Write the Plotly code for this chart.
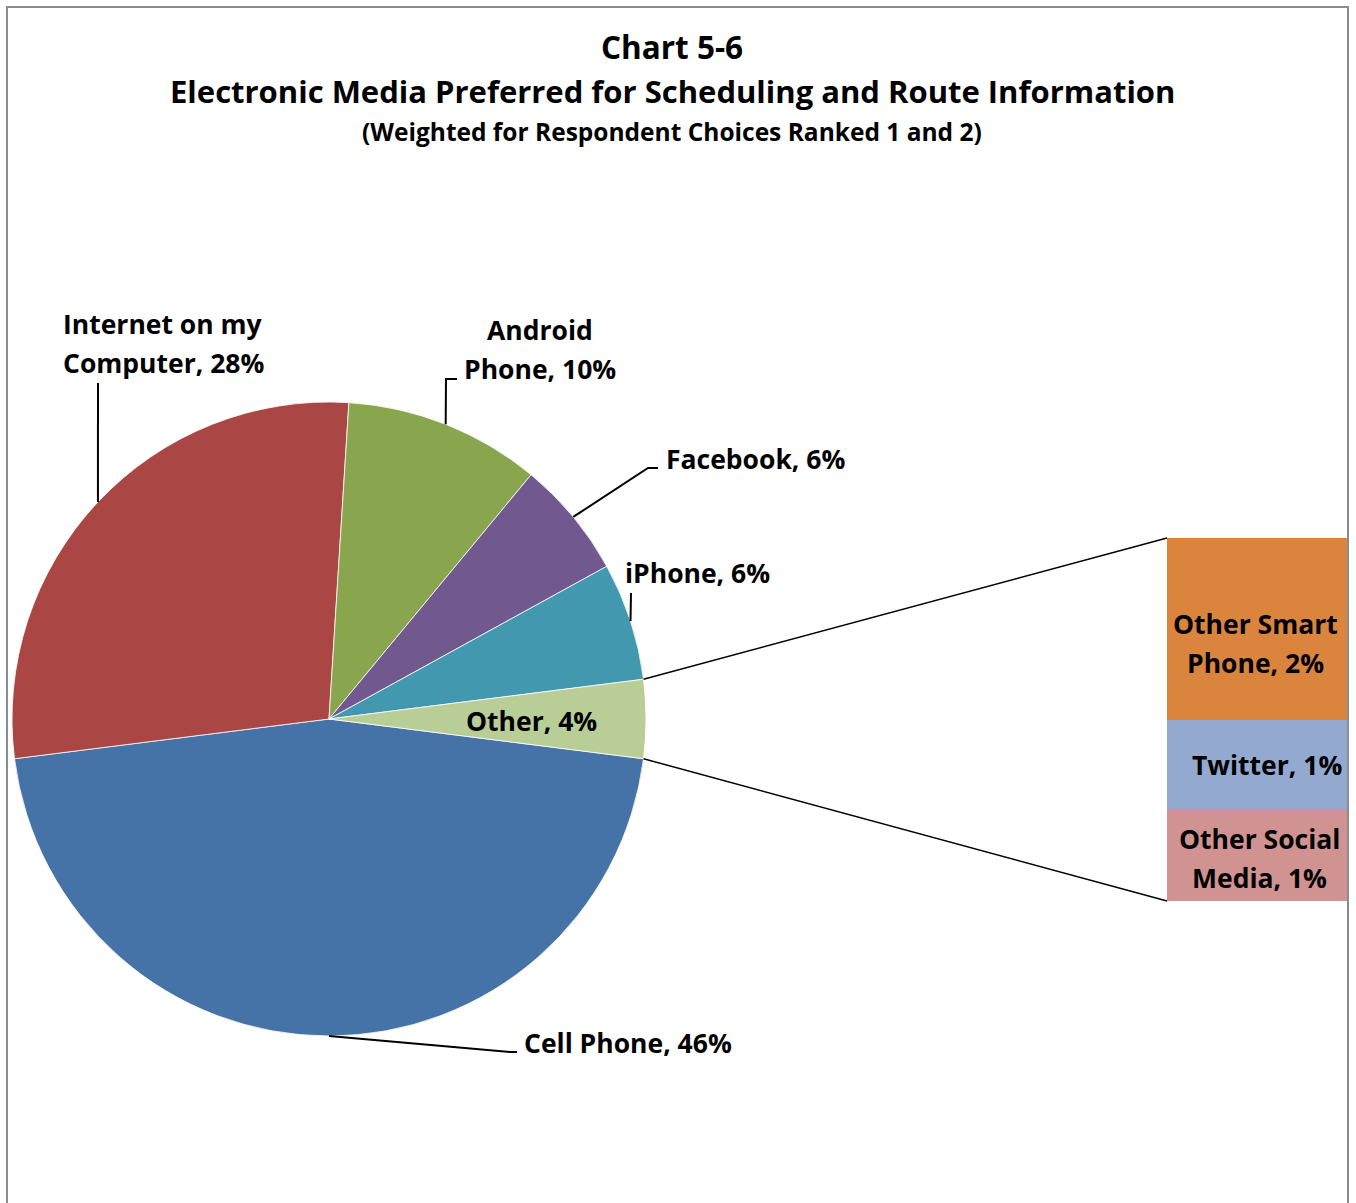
import math
import plotly.graph_objects as go

# ---- data -----------------------------------------------------------------
pie_labels = ["Cell Phone", "Internet on my<br>Computer", "Android<br>Phone",
              "Facebook", "iPhone", "Other"]
pie_values = [46, 28, 10, 6, 6, 4]
pie_colors = ["#4572A7", "#AA4643", "#89A54E", "#71588F", "#4198AF", "#B9CD96"]

bar_labels = ["Other Social<br>Media", "Twitter", "Other Smart<br>Phone"]   # bottom -> top
bar_values = [1, 1, 2]
bar_colors = ["#D19392", "#93A9CF", "#DB843D"]

title_lines = ["Chart 5-6",
               "Electronic Media Preferred for Scheduling and Route Information",
               "(Weighted for Respondent Choices Ranked 1 and 2)"]

# ---- geometry (pixels) ------------------------------------------------------
W, H = 1356, 1203
FONT = "Open Sans"
LABEL_SIZE = 26.5
LINE_GAP = 39                                   # spacing between label lines
cx, cy, R = 329, 719, 317                       # pie centre / radius
bar_px = dict(x0=1167, x1=1348, y0=538, y1=901)  # bar panel box


def px(x, y):
    return x / W, 1 - y / H


total = sum(pie_values)
other_share = pie_values[-1] / total
# the "Other" slice is centred on 3 o'clock
rotation = 90 + 180 * other_share


def rim(theta_deg):
    t = math.radians(theta_deg)
    return cx + R * math.sin(t), cy - R * math.cos(t)


# mid angle of every slice (clockwise from 12 o'clock)
mids, acc = [], 0.0
for v in pie_values:
    mids.append(rotation + (acc + v / 2) / total * 360)
    acc += v

fig = go.Figure()

fig.add_trace(go.Pie(
    labels=[l.replace("<br>", " ") for l in pie_labels], values=pie_values,
    sort=False, direction="clockwise",
    rotation=rotation, textinfo="none", hoverinfo="label+percent",
    marker=dict(colors=pie_colors, line=dict(color="white", width=0.8)),
    domain=dict(x=[(cx - R) / W, (cx + R) / W],
                y=[1 - (cy + R) / H, 1 - (cy - R) / H]),
    showlegend=False,
))

for lab, val, col in zip(bar_labels, bar_values, bar_colors):
    fig.add_trace(go.Bar(
        x=[0], y=[val], width=[1], marker=dict(color=col, line=dict(width=0)),
        name=lab.replace("<br>", " "), hoverinfo="name+y",
        xaxis="x2", yaxis="y2", showlegend=False,
    ))

fig.update_layout(
    width=W, height=H, margin=dict(l=0, r=0, t=0, b=0),
    paper_bgcolor="white", plot_bgcolor="white", barmode="stack",
    xaxis=dict(visible=False), yaxis=dict(visible=False),
    xaxis2=dict(domain=[bar_px["x0"] / W, bar_px["x1"] / W], range=[-0.5, 0.5],
                visible=False, anchor="y2", fixedrange=True),
    yaxis2=dict(domain=[1 - bar_px["y1"] / H, 1 - bar_px["y0"] / H],
                range=[0, sum(bar_values)], visible=False, anchor="x2", fixedrange=True),
)

shapes = []
# chart frame
shapes.append(dict(type="rect", xref="paper", yref="paper",
                   x0=7 / W, x1=1348 / W, y0=-0.01, y1=1 - 7 / H,
                   line=dict(color="#8C8C8C", width=2), fillcolor="rgba(0,0,0,0)"))


def line(points, width=2):
    path = "M " + " L ".join(f"{px(x, y)[0]},{px(x, y)[1]}" for x, y in points)
    shapes.append(dict(type="path", xref="paper", yref="paper", path=path,
                       line=dict(color="black", width=width)))


# connectors from the "Other" slice to the bar panel
a_top = rotation - pie_values[-1] / total * 360
a_bot = rotation
line([rim(a_top), (bar_px["x0"], bar_px["y0"])], 1.5)
line([rim(a_bot), (bar_px["x0"], bar_px["y1"])], 1.5)

# leader lines
line([rim(mids[0]), (510, 1052), (517, 1052)])   # Cell Phone
line([rim(mids[1]), (98, 383)])                  # Internet
line([rim(mids[2]), (446, 379), (457, 379)])     # Android
line([rim(mids[3]), (648, 468), (658, 468)])     # Facebook
line([rim(mids[4]), (631, 593)])                 # iPhone

fig.update_layout(shapes=shapes)

annotations = []
lab_font = dict(family=FONT, size=LABEL_SIZE, color="black", weight="bold")

# titles
for text, y, size in zip(title_lines, [46, 91, 131], [31.5, 31, 24.5]):
    x0, y0 = px(672, y)
    annotations.append(dict(text=text, x=x0, y=y0, xref="paper", yref="paper",
                            showarrow=False, xanchor="center", yanchor="middle",
                            font=dict(family=FONT, size=size, color="black", weight="bold")))

# pie labels: (x, y of first line, xanchor)
label_pos = [(522, 1043, "left"), (163, 324, "center"), (540, 330, "center"),
             (664, 459, "left"), (623, 573, "left"), (531, 721, "center")]
for lab, val, (x, y, xa) in zip(pie_labels, pie_values, label_pos):
    for i, part in enumerate(f"{lab}, {val}%".split("<br>")):
        x0, y0 = px(x, y + i * LINE_GAP)
        annotations.append(dict(text=part, x=x0, y=y0, xref="paper", yref="paper",
                                showarrow=False, xanchor=xa, yanchor="middle",
                                font=lab_font))

# bar labels, anchored on each segment's centre
bar_offsets = [(2, 3), (9, 0), (-2, 15)]      # (dx, dy) pixel nudges
base = 0
for lab, val, (dx, dy) in zip(bar_labels, bar_values, bar_offsets):
    parts = f"{lab}, {val}%".split("<br>")
    mid = base + val / 2
    for i, part in enumerate(parts):
        off = (i - (len(parts) - 1) / 2) * LINE_GAP + dy
        annotations.append(dict(text=part, x=0, y=mid, xref="x2", yref="y2",
                                xshift=dx, yshift=-off, showarrow=False,
                                xanchor="center", yanchor="middle", font=lab_font))
    base += val
fig.update_layout(annotations=annotations)

fig.write_html("out.html")
